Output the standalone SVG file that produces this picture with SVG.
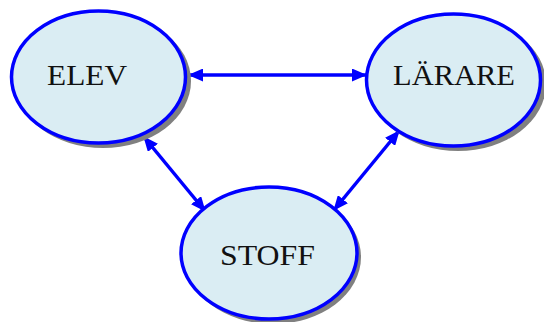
<svg xmlns="http://www.w3.org/2000/svg" width="544" height="322" viewBox="0 0 544 322">
<style>
.node ellipse.body{fill:#daedf3;stroke:#0000ff;stroke-width:3.5}
.node ellipse.shadow{fill:#808080}
.node text{font-family:"Liberation Serif","Times New Roman",serif;font-size:29px;fill:#111;text-anchor:middle}
.conn line{stroke:#0000ff;stroke-width:3.5;marker-start:url(#ah);marker-end:url(#ah)}
</style>
<defs>
<marker id="ah" viewBox="0 0 15 13" refX="14" refY="6.5" markerWidth="15" markerHeight="13" markerUnits="userSpaceOnUse" orient="auto-start-reverse">
<path d="M0,0 L15,6.5 L0,13 Z" fill="#0000ff"/>
</marker>
</defs>
<g id="connectors" class="conn">
<line x1="189" y1="75" x2="366" y2="75"/>
<line x1="144" y1="137" x2="205" y2="211"/>
<line x1="399" y1="131" x2="334" y2="210"/>
</g>
<g id="elev" class="node">
<ellipse class="shadow" cx="103" cy="81" rx="88" ry="67"/>
<ellipse class="body" cx="98.5" cy="77" rx="87" ry="66"/>
<text x="87" y="85" textLength="80" lengthAdjust="spacingAndGlyphs">ELEV</text>
</g>
<g id="larare" class="node">
<ellipse class="shadow" cx="458" cy="84" rx="88" ry="67"/>
<ellipse class="body" cx="453.5" cy="80" rx="87" ry="66"/>
<text x="454" y="85" textLength="122" lengthAdjust="spacingAndGlyphs">LÄRARE</text>
</g>
<g id="stoff" class="node">
<ellipse class="shadow" cx="273" cy="257" rx="88" ry="67"/>
<ellipse class="body" cx="269" cy="253" rx="88" ry="66"/>
<text x="267.5" y="265" textLength="95" lengthAdjust="spacingAndGlyphs">STOFF</text>
</g>
</svg>
